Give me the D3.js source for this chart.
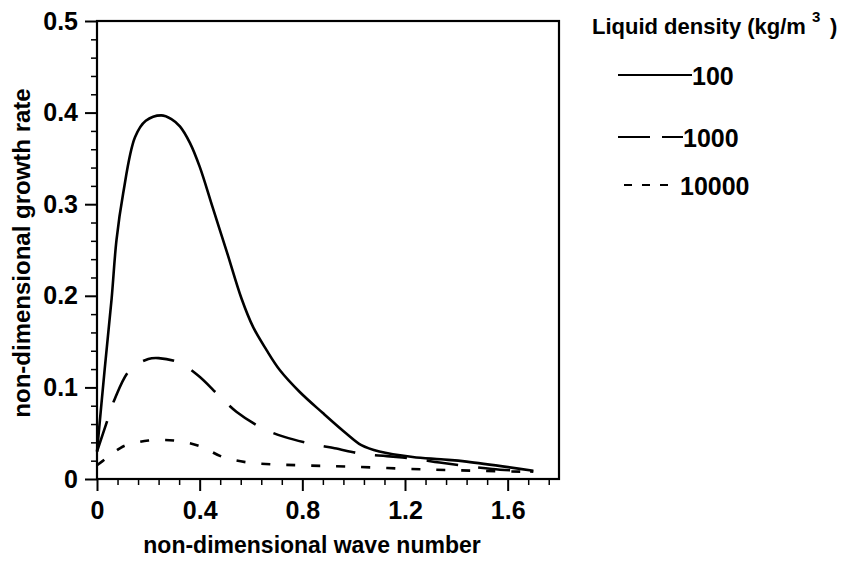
<!DOCTYPE html>
<html>
<head>
<meta charset="utf-8">
<script src="https://cdn.jsdelivr.net/npm/d3@7"></script>
<style>
  body { margin: 0; background: #fff; }
  text { font-family: "Liberation Sans", Arial, sans-serif; font-weight: bold; fill: #000; }
</style>
</head>
<body>
<div class="graphContainer"></div>
<script>
// data
var kx100 = [0, 0.03, 0.057, 0.076, 0.102, 0.148, 0.19, 0.25, 0.29, 0.323, 0.362, 0.40, 0.45, 0.508, 0.563, 0.608, 0.66, 0.712, 0.79, 0.88, 0.97, 1.03, 1.10, 1.23, 1.34, 1.44, 1.70];
var g100 = [0.03, 0.12, 0.197, 0.261, 0.312, 0.373, 0.391, 0.397, 0.393, 0.385, 0.367, 0.341, 0.297, 0.246, 0.197, 0.166, 0.141, 0.119, 0.095, 0.072, 0.05, 0.037, 0.03, 0.024, 0.0215, 0.019, 0.009];

var kx1000 = [0, 0.044, 0.07, 0.128, 0.2, 0.24, 0.32, 0.394, 0.479, 0.543, 0.647, 0.73, 0.842, 0.926, 1.043, 1.13, 1.25, 1.335, 1.54, 1.70];
var g1000 = [0.03, 0.067, 0.088, 0.119, 0.131, 0.132, 0.127, 0.113, 0.09, 0.0735, 0.055, 0.046, 0.038, 0.0335, 0.027, 0.025, 0.0215, 0.018, 0.011, 0.008];

var kx10000 = [0, 0.031, 0.089, 0.115, 0.2, 0.3, 0.4, 0.49, 0.589, 0.686, 0.783, 0.984, 1.276, 1.477, 1.67];
var g10000 = [0.015, 0.0215, 0.0335, 0.037, 0.042, 0.042, 0.036, 0.024, 0.018, 0.016, 0.015, 0.0135, 0.0105, 0.009, 0.008];

var xTicks = [0, 0.4, 0.8, 1.2, 1.6];
var yTicks = [0, 0.1, 0.2, 0.3, 0.4, 0.5];
var densityLabels = ["100", "1000", "10000"];

var margin = { left: 97, top: 21 };
var width = 462;
var height = 458;

var svg = d3
  .select(".graphContainer")
  .append("svg")
  .attr("width", 846)
  .attr("height", 561);

var g = svg.append("g").attr("transform", "translate(" + margin.left + "," + margin.top + ")");

var xScale = d3.scaleLinear().domain([0, 1.8]).range([0, width]);
var yScale = d3.scaleLinear().domain([0, 0.5]).range([height, 0]);

// minor ticks
var xMinor = d3.range(0, 1.8001, 0.08).filter((d) => Math.abs(d / 0.4 - Math.round(d / 0.4)) > 1e-6);
var yMinor = d3.range(0, 0.5001, 0.02).filter((d) => Math.abs(d / 0.1 - Math.round(d / 0.1)) > 1e-6);

g.append("g")
  .attr("transform", "translate(0," + height + ")")
  .call(d3.axisBottom(xScale).tickValues(xMinor).tickSize(6).tickFormat(""))
  .call((a) => a.select(".domain").remove())
  .selectAll("line").attr("stroke-width", 1.5);

g.append("g")
  .call(d3.axisLeft(yScale).tickValues(yMinor).tickSize(6).tickFormat(""))
  .call((a) => a.select(".domain").remove())
  .selectAll("line").attr("stroke-width", 1.5);

// major ticks
var tickFmt = (d) => (d === 0 ? "0" : d3.format(".1f")(d));

var xAxis = g
  .append("g")
  .attr("transform", "translate(0," + height + ")")
  .call(d3.axisBottom(xScale).tickValues(xTicks).tickSize(12).tickPadding(10).tickFormat(tickFmt));
xAxis.select(".domain").remove();
xAxis.selectAll("line").attr("stroke-width", 2);
xAxis.selectAll("text").style("font-size", "25px");

var yAxis = g
  .append("g")
  .call(d3.axisLeft(yScale).tickValues(yTicks).tickSize(12).tickPadding(7).tickFormat(tickFmt));
yAxis.select(".domain").remove();
yAxis.selectAll("line").attr("stroke-width", 2);
yAxis.selectAll("text").style("font-size", "25px");

// frame
g.append("rect")
  .attr("width", width)
  .attr("height", height)
  .attr("fill", "none")
  .attr("stroke", "#000")
  .attr("stroke-width", 2.2);

// curves
var series = [
  { x: kx100, y: g100, dash: null },
  { x: kx1000, y: g1000, dash: "32,20" },
  { x: kx10000, y: g10000, dash: "9,16" }
];

var line = d3
  .line()
  .x((d) => xScale(d[0]))
  .y((d) => yScale(d[1]))
  .curve(d3.curveCatmullRom.alpha(0.5));

series.forEach(function (s) {
  g.append("path")
    .datum(d3.zip(s.x, s.y))
    .attr("d", line)
    .attr("fill", "none")
    .attr("stroke", "#000")
    .attr("stroke-width", 2.6)
    .attr("stroke-dasharray", s.dash);
});

// axis titles
svg
  .append("text")
  .attr("x", margin.left + xScale(0.9) - 16)
  .attr("y", 553)
  .attr("text-anchor", "middle")
  .style("font-size", "23px")
  .text("non-dimensional wave number");

svg
  .append("text")
  .attr("transform", "translate(30,253) rotate(-90)")
  .attr("text-anchor", "middle")
  .style("font-size", "24px")
  .text("non-dimensional growth rate");

// legend
var legend = svg.append("g").attr("id", "legend");

legend
  .append("text")
  .attr("x", 592)
  .attr("y", 34)
  .style("font-size", "22px")
  .text("Liquid density (kg/m");
legend
  .append("text")
  .attr("x", 812)
  .attr("y", 22)
  .style("font-size", "15px")
  .text("3");
legend
  .append("text")
  .attr("x", 830)
  .attr("y", 34)
  .style("font-size", "22px")
  .text(")");

var legendRows = [
  { y: 75, x1: 618, x2: 692, dash: null },
  { y: 137, x1: 618, x2: 683, dash: "32,12" },
  { y: 185, x1: 624, x2: 678, dash: "8,10" }
];

legendRows.forEach(function (r, i) {
  legend
    .append("line")
    .attr("x1", r.x1)
    .attr("x2", r.x2)
    .attr("y1", r.y)
    .attr("y2", r.y)
    .attr("stroke", "#000")
    .attr("stroke-width", 2)
    .attr("stroke-dasharray", r.dash);
  legend
    .append("text")
    .attr("x", r.x2 + (i == 2 ? 2 : 0))
    .attr("y", r.y + 10)
    .style("font-size", "25px")
    .text(densityLabels[i]);
});
</script>
</body>
</html>
